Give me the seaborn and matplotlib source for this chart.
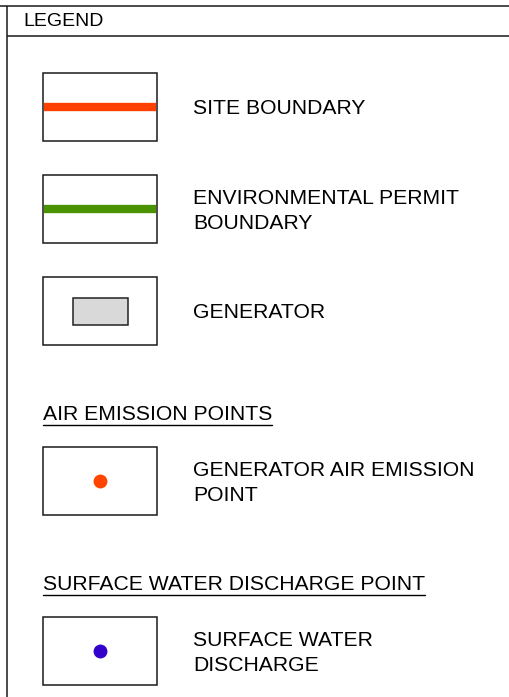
import matplotlib
matplotlib.use('Agg')
import matplotlib.pyplot as plt
import seaborn as sns
from matplotlib.patches import Rectangle

# legend content
legend_labels = ['SITE BOUNDARY', 'ENVIRONMENTAL PERMIT\nBOUNDARY', 'GENERATOR',
                 'GENERATOR AIR EMISSION\nPOINT', 'SURFACE WATER\nDISCHARGE']
symbol_kinds = ['line', 'line', 'rect', 'dot', 'dot']
symbol_colors = ['#FF4000', '#4A9200', '#D9D9D9', '#FF4500', '#3300CC']
section_titles = [None, None, None, 'AIR EMISSION POINTS', 'SURFACE WATER DISCHARGE POINT']
header_text = 'LEGEND'

sns.set_theme(style='white')
plt.rcParams['font.family'] = ['Liberation Sans', 'DejaVu Sans']

W, H = 509, 697
fig = plt.figure(figsize=(W / 100, H / 100), dpi=100)
ax = fig.add_axes([0, 0, 1, 1])
ax.set_xlim(0, W)
ax.set_ylim(H, 0)
ax.axis('off')

frame_kw = dict(color='#1a1a1a', linewidth=1.1, solid_capstyle='butt')
# outer frame and header
ax.plot([0, W], [6, 6], **frame_kw)
ax.plot([7, 7], [6, H], **frame_kw)
ax.plot([7, W], [36, 36], **frame_kw)
ax.text(23, 22, header_text, fontsize=14, va='center', ha='left', color='black')

box_x, box_w, box_h = 43, 114, 68
text_x = 193
row_gap = 102
section_extra = 68
fs = 15.2

top = 73
renderer = fig.canvas.get_renderer()
for label, kind, color, section in zip(legend_labels, symbol_kinds, symbol_colors, section_titles):
    if section is not None:
        top += section_extra
        t = ax.text(box_x, top - 27, section, fontsize=fs, ha='left', va='baseline', color='black')
        bb = t.get_window_extent(renderer=renderer)
        ax.plot([box_x, box_x + bb.width], [top - 22, top - 22], color='black', linewidth=1.0)
    yc = top + box_h / 2
    xc = box_x + box_w / 2
    ax.add_patch(Rectangle((box_x, top), box_w, box_h, facecolor='white',
                           edgecolor='#1a1a1a', linewidth=1.1, zorder=2))
    if kind == 'line':
        sns.lineplot(x=[box_x + 0.7, box_x + box_w - 0.7], y=[yc, yc], color=color,
                     linewidth=6.0, solid_capstyle='butt', ax=ax, zorder=3, legend=False)
    elif kind == 'rect':
        ax.add_patch(Rectangle((xc - 27, yc - 13.5), 55, 27, facecolor=color,
                               edgecolor='#222222', linewidth=1.1, zorder=3))
    else:
        sns.scatterplot(x=[xc], y=[yc], color=color, s=100, linewidth=0, ax=ax,
                        zorder=4, legend=False)
    ax.text(text_x, yc + 2, label, fontsize=fs, ha='left', va='center',
            linespacing=1.42, color='black')
    top += row_gap

ax.set_xlim(0, W)
ax.set_ylim(H, 0)
ax.axis('off')
fig.savefig('out.png', dpi=100)
